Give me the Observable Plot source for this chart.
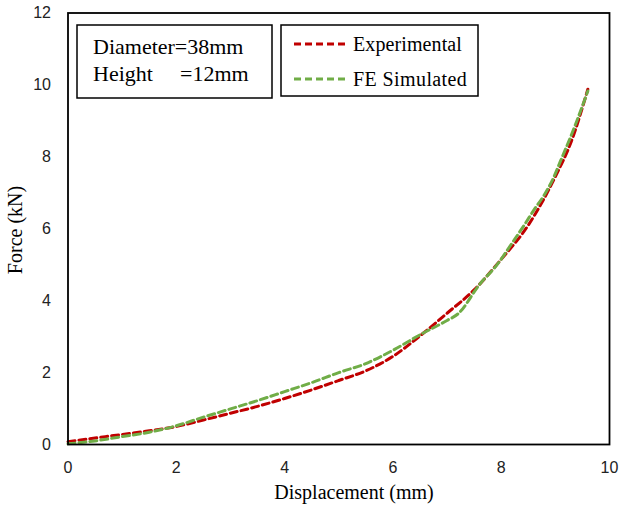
<!DOCTYPE html>
<html>
<head>
<meta charset="utf-8">
<script src="https://cdn.jsdelivr.net/npm/d3@7"></script>
<script src="https://cdn.jsdelivr.net/npm/@observablehq/plot@0.6"></script>
<style>
  html, body { margin: 0; padding: 0; background: #fff; }
  #chart { width: 624px; height: 509px; }
</style>
</head>
<body>
<div id="chart"></div>
<script>
// ---- data ----
const expDisp  = [0, 0.5, 1.0, 1.5, 2.0, 2.5, 3.0, 3.5, 4.0, 4.5, 5.0, 5.5, 6.0, 6.5, 7.0, 7.5, 8.0, 8.5, 9.0, 9.3, 9.6];
const expForce = [0.08, 0.18, 0.28, 0.38, 0.5, 0.68, 0.87, 1.06, 1.28, 1.52, 1.78, 2.05, 2.45, 3.02, 3.65, 4.3, 5.15, 6.1, 7.45, 8.45, 9.88];

const feDisp  = [0, 0.5, 1.0, 1.5, 2.0, 2.5, 3.0, 3.5, 4.0, 4.5, 5.0, 5.5, 6.0, 6.5, 7.0, 7.2, 7.6, 7.95, 8.2, 8.42, 8.63, 8.8, 8.97, 9.1, 9.28, 9.4, 9.6];
const feForce = [0.02, 0.1, 0.22, 0.34, 0.52, 0.76, 0.99, 1.22, 1.47, 1.72, 2.0, 2.25, 2.62, 3.05, 3.45, 3.63, 4.45, 5.05, 5.6, 6.09, 6.58, 6.95, 7.43, 7.9, 8.55, 9.01, 9.83];

const xTicks = [0, 2, 4, 6, 8, 10];
const yTicks = [0, 2, 4, 6, 8, 10, 12];
const seriesNames = ["Experimental", "FE Simulated"];
const seriesColors = ["#C00000", "#70AD47"];
const infoLines = ["Diameter=38mm", "Height", "=12mm"];

const expData = expDisp.map((d, i) => ({d, f: expForce[i]}));
const feData = feDisp.map((d, i) => ({d, f: feForce[i]}));

const W = 624, H = 509;
const mL = 67.5, mT = 12.5, mR = 15, mB = 65;

const plot = Plot.plot({
  width: W,
  height: H,
  marginLeft: mL,
  marginTop: mT,
  marginRight: mR,
  marginBottom: mB,
  style: {fontFamily: "'Liberation Sans', Arial, sans-serif", fontSize: "16px", color: "#222", background: "#fff"},
  x: {domain: [0, 10], ticks: xTicks, tickSize: 0, tickPadding: 17, label: null, tickFormat: d => String(d)},
  y: {domain: [0, 12], ticks: yTicks, tickSize: 0, tickPadding: 17, label: null, tickFormat: d => String(d)},
  marks: [
    Plot.line(expData, {x: "d", y: "f", stroke: seriesColors[0], strokeWidth: 3, strokeDasharray: "7,4", curve: "monotone-x"}),
    Plot.line(feData, {x: "d", y: "f", stroke: seriesColors[1], strokeWidth: 3, strokeDasharray: "7,4", curve: "monotone-x"}),
    Plot.frame({stroke: "#000", strokeWidth: 1.8})
  ]
});

document.getElementById("chart").appendChild(plot);

const svg = d3.select(plot);
const serifStyle = (size, anchor) =>
  `font-family: 'Liberation Serif', 'Times New Roman', serif; font-size: ${size}px; text-anchor: ${anchor}; fill: #000;`;

// axis titles
svg.append("text")
  .attr("x", 354).attr("y", 499)
  .attr("style", serifStyle(20, "middle"))
  .text("Displacement (mm)");
svg.append("text")
  .attr("transform", "translate(22,230) rotate(-90)")
  .attr("style", serifStyle(20, "middle"))
  .text("Force (kN)");

// info box
svg.append("rect").attr("x", 77).attr("y", 25).attr("width", 195).attr("height", 73)
  .attr("fill", "#fff").attr("stroke", "#000").attr("stroke-width", 1.5);
svg.append("text").attr("x", 93).attr("y", 54)
  .attr("style", serifStyle(22, "start"))
  .text(infoLines[0]);
const t2 = svg.append("text").attr("y", 81)
  .attr("style", serifStyle(22, "start"));
t2.append("tspan").attr("x", 93).text(infoLines[1]);
t2.append("tspan").attr("x", 180).text(infoLines[2]);

// legend box
svg.append("rect").attr("x", 281).attr("y", 25).attr("width", 197).attr("height", 71)
  .attr("fill", "#fff").attr("stroke", "#000").attr("stroke-width", 1.5);
const legY = [44, 79];
seriesNames.forEach((name, i) => {
  svg.append("line").attr("x1", 294).attr("x2", 348).attr("y1", legY[i]).attr("y2", legY[i])
    .attr("stroke", seriesColors[i]).attr("stroke-width", 3).attr("stroke-dasharray", "7,4");
  svg.append("text").attr("x", 353).attr("y", legY[i] + 6.5)
    .attr("style", serifStyle(20, "start") + ` letter-spacing: ${i === 0 ? 0.1 : 0.4}px;`)
    .text(name);
});
</script>
</body>
</html>
